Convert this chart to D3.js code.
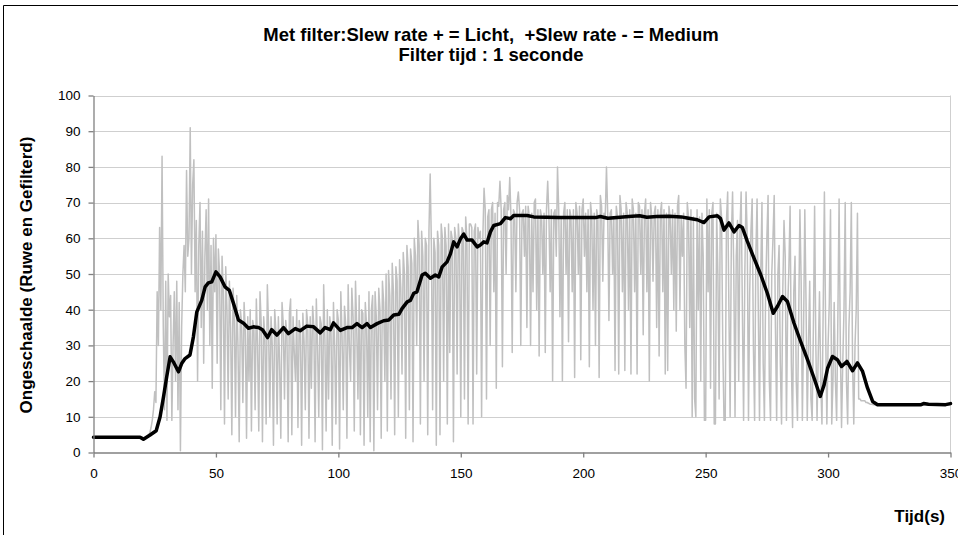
<!DOCTYPE html>
<meta charset="utf-8">
<title>Met filter: Slew rate</title>
<style>
body { margin:0; background:#fff; }
svg { display:block; font-family: "Liberation Sans", Arial, sans-serif; }
.grid line { stroke:#cfcfcf; stroke-width:1px; }
.axis path, .axis line { stroke:#808080; stroke-width:1.3px; }
.axis text { font-size:13.5px; fill:#000; }
.title { font-size:18.5px; font-weight:bold; white-space:pre; }
.atitle { font-size:17px; font-weight:bold; }
.raw { fill:none; stroke:#c0c0c0; stroke-width:1.5px; stroke-linejoin:round; }
.filt { fill:none; stroke:#000; stroke-width:3.5px; stroke-linejoin:round; stroke-linecap:round; }
</style>
<body>
<div id="chart"></div>
<script src="https://d3js.org/d3.v7.min.js"></script>
<script>
var titleLines = ["Met filter:Slew rate + = Licht,  +Slew rate - = Medium", "Filter tijd : 1 seconde"];
var xLabel = "Tijd(s)";
var yLabel = "Ongeschaalde (Ruwe en Gefilterd)";
var xTicks = [0, 50, 100, 150, 200, 250, 300, 350];
var yTicks = [0, 10, 20, 30, 40, 50, 60, 70, 80, 90, 100];

// raw signal, one sample every 0.5 s (t = 0..350), 8 samples = 4 s per row
var rawStep = 0.5;
var rawValues = [
  4.3,4.3,4.3,4.3,4.3,4.3,4.3,4.3,  4.3,4.3,4.3,4.3,4.3,4.3,4.3,4.3,
  4.3,4.3,4.3,4.3,4.3,4.3,4.3,4.3,  4.3,4.3,4.3,4.3,4.3,4.3,4.3,4.3,
  4.3,4.3,4.3,4.3,4.3,4.3,4.3,4.3,  4.3,4.0,4.0,4.0,
  4.5,5,5.5,7,9,12,17,14,           // t 22
  45,30,63,40,83,35,12,48,          // t 26
  9,50,38,44,9,30,45,20,            // t 30
  48,12,42,0.5,35,50,58,45,         // t 34
  79,55,60,91,50,75,82,45,          // t 38
  65,20,58,70,35,62,25,55,          // t 42
  68,40,71,30,58,18,60,45,          // t 46
  61,25,57,50,12,55,45,8,           // t 50
  52,40,15,48,35,5,46,38,           // t 54
  10,44,30,3,40,36,14,42,           // t 58
  34,4,38,20,40,6,37,35,            // t 62
  12,43,30,6,45,36,3,38,            // t 66
  32,8,47,35,10,38,30,2,            // t 70
  40,34,8,38,25,4,42,36,            // t 74
  15,37,33,3,39,43,5,38,            // t 78
  28,20,40,7,37,34,2,39,            // t 82
  31,12,40,36,4,38,18,41,           // t 86
  35,3,43,30,10,38,36,0.8,          // t 90
  47,32,6,40,15,38,34,2,            // t 94
  42,30,8,40,37,1,45,33,            // t 98
  12,41,36,4,47,30,20,46,           // t 102
  38,6,48,35,15,44,5,40,            // t 106
  39,2,42,36,10,45,3,40,            // t 110
  44,0.5,45,38,12,46,40,4,          // t 114
  48,42,20,50,6,51,44,15,           // t 118
  53,45,5,52,48,10,54,46,           // t 122
  22,56,50,4,58,52,12,57,           // t 126
  53,3,60,55,30,65,58,8,            // t 130
  62,55,20,60,58,5,62,78,           // t 134
  58,12,60,56,2,62,58,5,            // t 138
  64,60,20,63,58,8,64,28,           // t 142
  62,60,3,63,60,22,64,58,           // t 146
  10,63,62,15,66,60,8,64,           // t 150
  64,63,8,62,64,22,63,60,           // t 154
  62,10,60,74,68,15,66,68,          // t 158
  30,68,70,45,67,18,70,69,          // t 162
  76,68,24,68,70,50,72,68,          // t 166
  77,66,28,68,67,45,70,73,          // t 170
  68,30,67,68,55,69,35,69,          // t 174
  66,30,67,45,70,71,40,68,          // t 178
  27,68,66,50,67,28,68,76,          // t 182
  66,45,68,20,67,68,55,80,          // t 186
  68,38,66,20,67,70,50,68,          // t 190
  31,68,66,45,68,21,70,67,          // t 194
  50,69,26,68,71,55,67,45,          // t 198
  68,24,70,66,40,67,30,68,          // t 202
  66,21,72,69,48,67,66,80,          // t 206
  67,37,67,68,50,66,23,69,          // t 210
  66,22,72,68,45,67,23,70,          // t 214
  67,40,68,22,71,68,45,67,          // t 218
  22,70,69,50,68,33,67,71,          // t 222
  45,68,20,70,66,48,67,69,          // t 226
  35,68,27,67,70,45,68,22,          // t 230
  67,23,69,66,50,68,40,67,          // t 234
  34,69,72,40,66,55,67,30,          // t 238
  18,70,66,35,68,10,66,15,          // t 242
  10,68,40,66,20,67,55,9,           // t 246
  9,71,45,68,18,67,70,8,            // t 250
  8,67,50,15,71,66,30,9,            // t 254
  9,65,73,40,10,60,73,50,           // t 258
  10,55,65,20,62,73,40,9,           // t 262
  50,73,60,9,45,62,71,30,           // t 266
  9,55,71,40,9,50,70,25,            // t 270
  9,45,60,72,20,9,50,60,            // t 274
  72,35,9,50,58,25,8,45,            // t 278
  65,55,9,40,52,69,25,7,            // t 282
  45,55,20,9,38,68,48,9,            // t 286
  35,68,42,9,30,48,15,9,            // t 290
  35,69,30,9,28,45,20,8,            // t 294
  40,73,35,8,30,42,68,8,            // t 298
  20,42,20,9,38,71,30,7,            // t 302
  25,40,70,20,8,35,45,70,           // t 306
  25,8,30,40,67,15,15,14.5,         // t 310
  14.5,14.5,14.5,14,14,13.8,13.6,13.5, // t 314
  13.5,13.4,13.4,13.4,              // t 318
  13.4,13.4,13.4,13.4,13.4,13.4,13.4,13.4,13.4,13.4,
  13.4,13.4,13.4,13.4,13.4,13.4,13.4,13.4,13.4,13.4,
  13.4,13.4,13.4,13.4,13.4,13.4,13.4,13.4,13.4,13.4,
  13.4,13.4,13.4,13.4,13.4,13.4,13.4,13.4,13.4,13.4,
  13.4,13.4,13.4,13.4,13.4,13.4,13.4,13.4,13.4,13.4,
  13.4,13.4,13.4,13.4,13.4,13.4,13.4,13.4,13.4,13.4,
  13.4
];

// filtered signal, read at irregular times
var filtTime = [
  0,19,20.4,23.1,25.6,27.2,28.6,29.9,31.3,32.6,34.7,36,37.4,39.4,40.8,42.2,44.2,45.6,46.9,48.3,
  50,51.7,53.7,55.5,57.2,59.2,61.3,63.3,65.3,67.4,69,71.1,72.8,74.9,77.6,79.6,82.4,84.4,87.1,89.9,
  92.6,94.6,96.7,98,100.8,103.5,105.6,107.6,109.7,111.7,113.1,115.8,118.5,120.6,122.6,124.7,126,128.1,129.4,130.8,
  132.1,134.2,135.5,137.6,139.6,141,142.4,144.4,145.8,147.1,148.5,149.9,151.2,152.6,154.6,156.7,158,159.4,160.7,162.1,
  163.5,166.2,168.2,170.3,171.6,177.1,179.8,190,198.9,205,207,210,220,223,226,230,235,240,242.5,246.6,
  249.3,251.4,254.8,256.1,257.5,259.5,261.6,263.6,265,267,269.7,272.5,275.2,277.6,279.3,281.4,283.4,286.1,288.8,291.6,
  294.3,296.8,298.4,299.8,301.8,303.8,305.5,307.7,310,312,314.1,316.1,318.2,320.2,338,339,341,348,350
];
var filtValues = [
  4.3,4.3,3.7,4.9,6.1,10,15.6,21.2,26.8,25.4,22.6,24.9,26.3,27.3,32.4,39.4,42.6,46.4,47.5,47.8,
  50.6,49.2,46.4,45.4,41.7,37.1,36.2,34.8,35.2,35.0,34.4,32.2,34.4,32.9,35.0,33.3,34.7,34.1,35.4,35.2,
  33.5,35.0,34.4,36.3,34.2,35.0,35.0,36.1,35.0,36.1,35.0,36.1,36.9,37.1,38.5,38.7,40.3,42.2,42.6,44.6,
  45.0,49.7,50.2,48.8,49.7,49.2,52.0,53.4,55.7,59.0,57.6,59.9,61.2,59.5,59.5,57.6,58.1,59.0,58.7,61.8,
  63.6,64.1,65.8,65.5,66.4,66.4,66.0,65.8,65.8,65.8,66.1,65.6,66.2,66.3,65.9,66.1,66.2,66.0,65.7,65.2,
  64.4,66.0,66.3,65.5,62.3,64.3,61.8,63.6,63.0,59.2,54.5,49.8,44.6,39.0,40.9,43.7,42.3,36.2,31.1,26.0,
  20.8,15.7,19.0,23.6,26.9,26.0,24.1,25.5,22.9,25.1,22.7,18.1,14.3,13.4,13.4,13.7,13.5,13.4,13.7
];

var W = 958, H = 535;
var svg = d3.select("#chart").append("svg").attr("width", W).attr("height", H);

// chart frame (cut off at right and bottom like the original)
svg.append("path").attr("d", "M3.5," + H + "V5.5H" + W)
   .attr("fill", "none").attr("stroke", "#000").attr("stroke-width", 1);

var x = d3.scaleLinear().domain([0, 350]).range([93.5, 950.5]);
var y = d3.scaleLinear().domain([0, 100]).range([452.5, 95.5]);

// gridlines
svg.append("g").attr("class", "grid")
   .selectAll("line").data(yTicks.slice(1)).enter().append("line")
   .attr("x1", x(0)).attr("x2", x(350))
   .attr("y1", function(d){ return Math.round(y(d)) + 0.5; })
   .attr("y2", function(d){ return Math.round(y(d)) + 0.5; });
svg.append("line").attr("x1", x(350)).attr("x2", x(350))
   .attr("y1", y(100)).attr("y2", y(0)).attr("stroke", "#cfcfcf");

// data
var raw = rawValues.map(function(v, i){ return [i * rawStep, v]; });
var filt = filtTime.map(function(t, i){ return [t, filtValues[i]]; });
var line = d3.line().x(function(d){ return x(d[0]); }).y(function(d){ return y(d[1]); });

svg.append("path").datum(raw).attr("class", "raw").attr("d", line);
svg.append("path").datum(filt).attr("class", "filt").attr("d", line);

// axes
svg.append("g").attr("class", "axis")
   .attr("transform", "translate(" + x(0) + ",0)")
   .call(d3.axisLeft(y).tickValues(yTicks).tickSize(5).tickSizeOuter(0).tickPadding(8));
svg.append("g").attr("class", "axis")
   .attr("transform", "translate(0," + y(0) + ")")
   .call(d3.axisBottom(x).tickValues(xTicks).tickSize(5).tickSizeOuter(0).tickPadding(11));

// titles
svg.selectAll(".title").data(titleLines).enter().append("text")
   .attr("class", "title")
   .attr("x", 491).attr("y", function(d, i){ return 40.5 + i * 20.5; })
   .attr("text-anchor", "middle")
   .text(function(d){ return d; });

svg.append("text").attr("class", "atitle")
   .attr("x", 945).attr("y", 522).attr("text-anchor", "end")
   .text(xLabel);

svg.append("text").attr("class", "atitle")
   .attr("transform", "translate(32,275) rotate(-90)")
   .attr("text-anchor", "middle")
   .text(yLabel);
</script>
</body>
</html>
